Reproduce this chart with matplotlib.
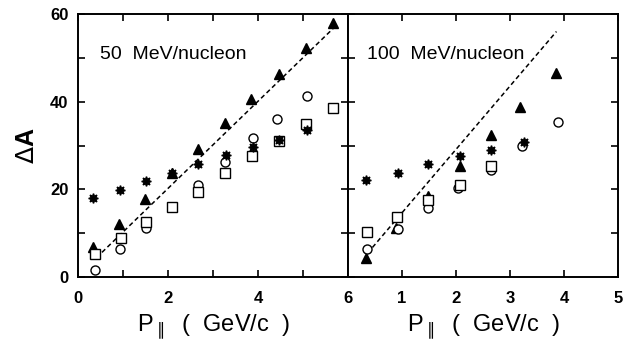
import numpy as np
import matplotlib
matplotlib.use('Agg')
import matplotlib.pyplot as plt
from matplotlib.ticker import MultipleLocator, FixedLocator

# 50 MeV/nucleon panel
p50_tri = [0.33, 0.90, 1.49, 2.09, 2.67, 3.26, 3.85, 4.46, 5.06, 5.67]
da50_tri = [6.8, 12.0, 17.7, 23.8, 29.1, 35.1, 40.6, 46.3, 52.2, 57.9]
p50_circ = [0.37, 0.94, 1.52, 2.09, 2.67, 3.26, 3.89, 4.43, 5.08]
da50_circ = [1.6, 6.3, 11.1, 16.0, 21.1, 26.2, 31.6, 36.0, 41.4]
p50_sq = [0.38, 0.95, 1.52, 2.09, 2.67, 3.26, 3.87, 4.46, 5.06, 5.67]
da50_sq = [5.2, 8.8, 12.6, 16.0, 19.5, 23.7, 27.7, 31.1, 34.9, 38.6]
p50_star = [0.33, 0.94, 1.52, 2.09, 2.67, 3.28, 3.89, 4.46, 5.08]
da50_star = [18.0, 19.8, 21.9, 23.7, 25.8, 27.8, 29.7, 31.3, 33.5]
p50_line = [0.41, 5.67]
da50_line = [4.4, 56.7]

# 100 MeV/nucleon panel
p100_tri = [0.33, 0.89, 1.49, 2.07, 2.65, 3.19, 3.86]
da100_tri = [4.3, 11.1, 18.5, 25.4, 32.4, 38.7, 46.6]
p100_circ = [0.36, 0.92, 1.49, 2.03, 2.65, 3.22, 3.89]
da100_circ = [6.5, 10.9, 15.7, 20.4, 24.4, 29.9, 35.3]
p100_sq = [0.36, 0.91, 1.49, 2.07, 2.65]
da100_sq = [10.3, 13.8, 17.6, 21.1, 25.3]
p100_star = [0.33, 0.92, 1.49, 2.07, 2.65, 3.26]
da100_star = [22.1, 23.8, 25.8, 27.5, 29.0, 30.7]
p100_line = [0.36, 3.86]
da100_line = [5.4, 56.0]

plt.rcParams['font.family'] = ['Liberation Sans', 'DejaVu Sans']

fig = plt.figure(figsize=(6.23, 3.46), dpi=100)
ax1 = fig.add_axes([78 / 623, 1 - 277 / 346, 270 / 623, 263 / 346])
ax2 = fig.add_axes([348 / 623, 1 - 277 / 346, 270 / 623, 263 / 346])

star = (8, 1, 0)


def draw(ax, pt, dt, pc, dc, ps, ds, pa, da, pl, dl):
    ax.plot(pl, dl, ls=(0, (3, 2)), color='black', lw=1.1)
    ax.plot(pt, dt, '^', color='black', ms=6.5, ls='none')
    ax.plot(pc, dc, 'o', mfc='white', mec='black', mew=1.0, ms=6.5, ls='none')
    ax.plot(ps, ds, 's', mfc='white', mec='black', mew=1.0, ms=6.5, ls='none')
    ax.plot(pa, da, marker=star, color='black', ms=7, ls='none')


draw(ax1, p50_tri, da50_tri, p50_circ, da50_circ, p50_sq, da50_sq,
     p50_star, da50_star, p50_line, da50_line)
draw(ax2, p100_tri, da100_tri, p100_circ, da100_circ, p100_sq, da100_sq,
     p100_star, da100_star, p100_line, da100_line)

ax1.set_xlim(0, 6)
ax2.set_xlim(0, 5)
for ax in (ax1, ax2):
    ax.set_ylim(0, 60)
    ax.yaxis.set_major_locator(MultipleLocator(20))
    ax.yaxis.set_minor_locator(MultipleLocator(10))
    ax.tick_params(which='both', direction='in', top=True, right=True,
                   length=5, width=1.2, labelsize=12)
    ax.tick_params(axis='x', pad=10)
    ax.tick_params(axis='y', pad=7)
    for s in ax.spines.values():
        s.set_linewidth(1.4)
    ax.set_xlabel(r'P$_{\parallel}$  (  GeV/c  )', fontsize=17, labelpad=5)

ax1.xaxis.set_major_locator(MultipleLocator(2))
ax1.xaxis.set_minor_locator(MultipleLocator(1))
ax2.xaxis.set_major_locator(FixedLocator([1, 2, 3, 4, 5]))
ax2.tick_params(labelleft=False)
for lab in ax1.get_xticklabels() + ax1.get_yticklabels() + ax2.get_xticklabels():
    lab.set_fontweight('bold')

ax1.set_ylabel(r'$\Delta$A', fontsize=18, fontweight='bold', labelpad=8)

ax1.text(0.08, 0.83, '50  MeV/nucleon', transform=ax1.transAxes, fontsize=14)
ax2.text(0.07, 0.83, '100  MeV/nucleon', transform=ax2.transAxes, fontsize=14)

fig.savefig('out.png', dpi=100)
